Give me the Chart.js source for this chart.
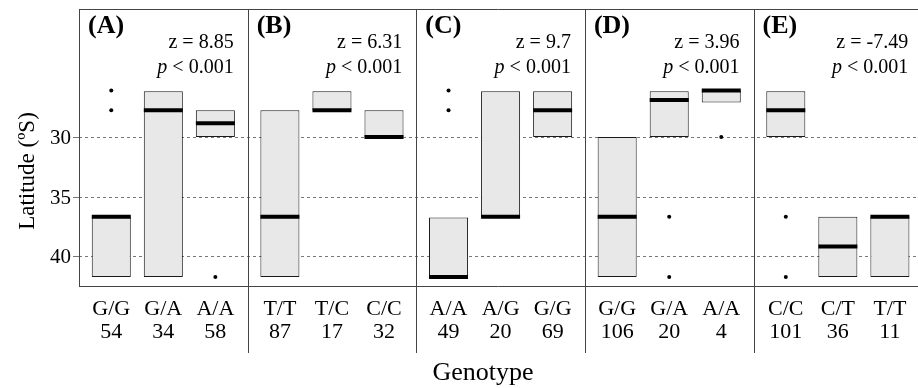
<!DOCTYPE html>
<html>
<head>
<meta charset="utf-8">
<script src="https://cdn.jsdelivr.net/npm/chart.js@4/dist/chart.umd.min.js"></script>
<style>
  body { margin: 0; background: #fff; }
  canvas { display: block; }
</style>
</head>
<body>
<canvas id="latChart" width="918" height="388"></canvas>
<script>
// data
const panelNames = ['(A)', '(B)', '(C)', '(D)', '(E)'];
const zValues = ['8.85', '6.31', '9.7', '3.96', '-7.49'];
const pText = '< 0.001';
const genotypes = [
  ['G/G', 'G/A', 'A/A'],
  ['T/T', 'T/C', 'C/C'],
  ['A/A', 'A/G', 'G/G'],
  ['G/G', 'G/A', 'A/A'],
  ['C/C', 'C/T', 'T/T'],
];
const counts = [
  [54, 34, 58],
  [87, 17, 32],
  [49, 20, 69],
  [106, 20, 4],
  [101, 36, 11],
];
// box edges (latitude ºS), low = north edge, high = south edge
const boxLow = [
  [36.65, 26.1, 27.7],
  [27.7, 26.1, 27.7],
  [36.7, 26.1, 26.1],
  [29.95, 26.1, 26.05],
  [26.1, 36.65, 36.65],
];
const boxHigh = [
  [41.7, 41.7, 29.95],
  [41.7, 27.7, 29.95],
  [41.7, 36.65, 29.95],
  [41.7, 29.95, 27.05],
  [29.95, 41.7, 41.7],
];
const medians = [
  [36.65, 27.7, 28.8],
  [36.65, 27.7, 29.95],
  [41.7, 36.65, 27.7],
  [36.65, 26.85, 26.05],
  [27.7, 39.15, 36.65],
];
// outliers: [panel, genotype index, latitude]
const outliers = [
  [0, 0, 26.05], [0, 0, 27.7], [0, 2, 41.7],
  [2, 0, 26.05], [2, 0, 27.7],
  [3, 1, 36.65], [3, 1, 41.7], [3, 2, 29.95],
  [4, 0, 36.65], [4, 0, 41.7],
];
const yTicks = [30, 35, 40];
const yRange = [19.2, 42.46];

// x layout in axis units: each panel spans 3 groups plus R-style padding
const panelSpan = 3.24;
const groupStart = 0.62;
const xMax = 16.12;
function xPos(p, k) {
  return p * panelSpan + groupStart + k;
}

let boxData = [];
let medianData = [];
let tickPositions = [];
let tickLabels = [];
genotypes.forEach((grp, p) => {
  grp.forEach((g, k) => {
    boxData.push({ x: xPos(p, k), y: [boxLow[p][k], boxHigh[p][k]] });
    medianData.push({ x: xPos(p, k), y: medians[p][k] });
    tickPositions.push(xPos(p, k));
    tickLabels.push([g, String(counts[p][k])]);
  });
});
const outlierData = outliers.map((o) => ({ x: xPos(o[0], o[1]), y: o[2] }));

const serif = '"Liberation Serif", "Times New Roman", serif';

// frame, panel dividers, tick labels and the annotation texts
// (labels drawn here so chart.js does not pad the plot area for them)
const panelDecor = {
  id: 'panelDecor',
  afterDraw(chart) {
    const { ctx, chartArea } = chart;
    const xs = chart.scales.x;
    const ys = chart.scales.y;
    ctx.save();
    ctx.strokeStyle = '#444';
    ctx.lineWidth = 1;
    ctx.beginPath();
    ctx.moveTo(chartArea.left, chartArea.top + 0.5);
    ctx.lineTo(chartArea.right, chartArea.top + 0.5);
    ctx.moveTo(chartArea.left, chartArea.bottom + 0.5);
    ctx.lineTo(chartArea.right, chartArea.bottom + 0.5);
    ctx.moveTo(chartArea.left + 0.5, chartArea.top);
    ctx.lineTo(chartArea.left + 0.5, chartArea.bottom);
    for (let p = 1; p <= panelNames.length; p++) {
      const px = Math.round(xs.getPixelForValue(p * panelSpan)) + 0.5;
      ctx.moveTo(px, chartArea.top);
      ctx.lineTo(px, chartArea.bottom + 67);
    }
    ctx.stroke();

    ctx.fillStyle = '#000';

    // y tick labels
    ctx.font = '21px ' + serif;
    ctx.textAlign = 'right';
    ctx.textBaseline = 'middle';
    yTicks.forEach((v) => {
      ctx.fillText(String(v), chartArea.left - 8, ys.getPixelForValue(v) + 1);
    });

    // genotype + sample size under each box
    ctx.textBaseline = 'alphabetic';
    ctx.textAlign = 'center';
    ctx.font = '22px ' + serif;
    tickPositions.forEach((v, i) => {
      const px = xs.getPixelForValue(v);
      ctx.fillText(tickLabels[i][0], px, chartArea.bottom + 29);
      ctx.fillText(tickLabels[i][1], px, chartArea.bottom + 51.5);
    });

    panelNames.forEach((name, p) => {
      const left = xs.getPixelForValue(p * panelSpan);
      const right = xs.getPixelForValue((p + 1) * panelSpan);
      ctx.font = 'bold 26px ' + serif;
      ctx.textAlign = 'left';
      ctx.fillText(name, left + 9, chartArea.top + 24);

      ctx.font = '20px ' + serif;
      ctx.textAlign = 'right';
      ctx.fillText('z = ' + zValues[p], right - 14, chartArea.top + 38.5);
      const rest = ' ' + pText;
      const restW = ctx.measureText(rest).width;
      ctx.fillText(rest, right - 14, chartArea.top + 63.5);
      ctx.font = 'italic 20px ' + serif;
      ctx.fillText('p', right - 14 - restW, chartArea.top + 63.5);
    });

    // axis titles
    ctx.font = '26px ' + serif;
    ctx.textAlign = 'center';
    ctx.fillText('Genotype', 483, 380);

    ctx.translate(34, 171);
    ctx.rotate(-Math.PI / 2);
    ctx.font = '23px ' + serif;
    ctx.fillText('Latitude (ºS)', 0, 0);
    ctx.restore();
  },
};

const ctx = document.getElementById('latChart').getContext('2d');
const latChart = new Chart(ctx, {
  type: 'bar',
  data: {
    datasets: [
      {
        label: 'box',
        data: boxData,
        backgroundColor: '#e8e8e8',
        borderColor: '#1a1a1a',
        borderWidth: 1,
        borderSkipped: false,
        grouped: false,
        barPercentage: 0.75,
        categoryPercentage: 1,
        order: 3,
      },
      {
        type: 'scatter',
        label: 'median',
        data: medianData,
        pointStyle: 'line',
        pointRadius: 19.5,
        pointHoverRadius: 19.5,
        borderColor: '#000',
        borderWidth: 4,
        order: 2,
      },
      {
        type: 'scatter',
        label: 'outlier',
        data: outlierData,
        pointStyle: 'circle',
        pointRadius: 2,
        backgroundColor: '#000',
        borderWidth: 0,
        order: 1,
      },
    ],
  },
  options: {
    responsive: false,
    animation: false,
    devicePixelRatio: 1,
    // no auto padding: the long median "points" would otherwise shrink the plot
    layout: { autoPadding: false, padding: { top: 9, left: 0, right: 0, bottom: 0 } },
    plugins: {
      legend: { display: false },
      tooltip: { enabled: false },
    },
    scales: {
      x: {
        type: 'linear',
        offset: false,
        min: 0,
        max: xMax,
        afterBuildTicks: (scale) => {
          scale.ticks = tickPositions.map((v) => ({ value: v }));
        },
        afterFit: (scale) => {
          scale.height = 102;
        },
        grid: { display: false, drawTicks: false },
        border: { display: false },
        ticks: { display: false },
      },
      y: {
        reverse: true,
        min: yRange[0],
        max: yRange[1],
        afterBuildTicks: (scale) => {
          scale.ticks = yTicks.map((v) => ({ value: v }));
        },
        afterFit: (scale) => {
          scale.width = 79;
        },
        grid: { color: '#777', lineWidth: 1, tickLength: 6 },
        border: { display: false, dash: [3, 3] },
        ticks: { display: false },
      },
    },
  },
  plugins: [panelDecor],
});
</script>
</body>
</html>
